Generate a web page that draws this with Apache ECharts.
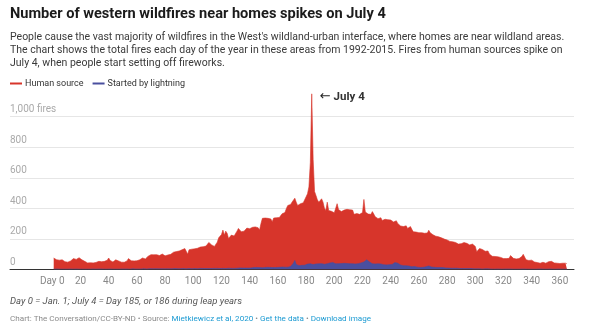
<!DOCTYPE html>
<html>
<head>
<meta charset="utf-8">
<script src="https://cdn.jsdelivr.net/npm/echarts@6/dist/echarts.min.js"></script>
<style>
  html, body { margin: 0; padding: 0; background: #fff; }
  #chart { width: 590px; height: 335px; }
</style>
</head>
<body>
<div id="chart"></div>
<script>
// Day-of-year axis ticks
const xTicks = [0, 20, 40, 60, 80, 100, 120, 140, 160, 180, 200, 220, 240, 260, 280, 300, 320, 340, 360];
const yTicks = [0, 200, 400, 600, 800, 1000];
const firstDay = 1;

// Human-caused fires per day (days 1..365)
const humanFires = [
  74, 66, 63, 58, 60, 65, 62, 54, 50, 48,
  47, 49, 55, 66, 70, 76, 65, 70, 76, 70,
  62, 58, 52, 46, 42, 41, 43, 40, 42, 48,
  45, 49, 52, 48, 50, 47, 52, 50, 60, 74,
  58, 50, 48, 52, 62, 70, 55, 48, 47, 50,
  46, 49, 55, 70, 60, 56, 58, 55, 60, 56,
  58, 62, 66, 74, 80, 68, 72, 86, 91, 96,
  98, 95, 99, 96, 92, 90, 96, 100, 92, 88,
  91, 94, 90, 98, 104, 112, 113, 116, 110, 120,
  125, 128, 132, 136, 118, 99, 128, 136, 132, 130,
  134, 128, 138, 134, 146, 150, 148, 156, 152, 158,
  176, 185, 160, 147, 150, 146, 178, 206, 213, 228,
  257, 224, 250, 236, 202, 212, 224, 228, 218, 235,
  250, 268, 279, 246, 240, 250, 262, 270, 275, 266,
  279, 275, 282, 278, 280, 272, 257, 300, 334, 330,
  336, 328, 334, 336, 330, 312, 336, 340, 338, 342,
  339, 350, 364, 367, 372, 398, 418, 410, 425, 440,
  452, 466, 440, 418, 425, 430, 420, 436, 440, 475,
  495, 540, 700, 1150, 720, 510, 484, 455, 440, 450,
  462, 440, 400, 386, 440, 385, 372, 380, 386, 370,
  378, 430, 392, 386, 378, 384, 388, 380, 393, 386,
  390, 384, 388, 360, 355, 365, 352, 360, 350, 372,
  458, 375, 365, 362, 368, 360, 378, 362, 345, 350,
  332, 345, 338, 320, 330, 328, 341, 325, 320, 323,
  316, 310, 323, 318, 300, 290, 284, 288, 280, 276,
  285, 268, 275, 280, 262, 246, 250, 244, 246, 240,
  235, 240, 234, 236, 230, 238, 256, 240, 232, 226,
  220, 217, 214, 213, 210, 206, 200, 198, 195, 192,
  187, 183, 185, 180, 186, 176, 172, 165, 170, 168,
  172, 175, 180, 170, 165, 160, 168, 165, 162, 150,
  115, 125, 136, 143, 130, 126, 118, 115, 120, 100,
  93, 85, 82, 84, 80, 82, 86, 78, 72, 70,
  73, 70, 68, 72, 90, 86, 72, 70, 68, 72,
  70, 74, 84, 98, 80, 62, 60, 58, 62, 60,
  56, 48, 46, 44, 46, 40, 44, 46, 42, 40,
  48, 50, 46, 52, 48, 42, 45, 40, 42, 38,
  42, 40, 38, 40, 36
];

// Lightning-caused fires per day (days 1..365)
const lightningFires = [
  1, 1, 2, 1, 1, 2, 1, 1, 1, 2,
  1, 1, 2, 1, 1, 1, 2, 1, 1, 1,
  1, 2, 1, 1, 1, 2, 1, 1, 2, 1,
  1, 1, 2, 1, 2, 1, 1, 2, 1, 1,
  2, 1, 1, 2, 1, 2, 1, 1, 2, 1,
  2, 1, 2, 2, 1, 2, 3, 2, 2, 3,
  2, 3, 2, 3, 4, 3, 2, 3, 4, 3,
  3, 2, 4, 3, 3, 4, 3, 2, 3, 4,
  3, 4, 3, 4, 3, 4, 5, 3, 4, 3,
  4, 3, 5, 4, 3, 4, 5, 4, 3, 4,
  5, 4, 4, 5, 6, 4, 5, 4, 5, 6,
  5, 6, 5, 4, 6, 5, 6, 7, 5, 6,
  6, 7, 5, 6, 7, 8, 6, 7, 6, 8,
  7, 8, 9, 7, 8, 6, 8, 9, 8, 10,
  9, 10, 11, 9, 12, 10, 11, 12, 10, 11,
  12, 11, 13, 10, 12, 14, 11, 13, 12, 14,
  13, 12, 15, 13, 14, 16, 14, 15, 18, 24,
  40, 58, 32, 26, 24, 28, 26, 30, 27, 32,
  34, 30, 36, 33, 31, 38, 35, 32, 36, 34,
  37, 35, 33, 38, 36, 40, 42, 50, 44, 38,
  36, 40, 37, 35, 38, 34, 39, 36, 38, 35,
  37, 33, 36, 38, 35, 40, 37, 39, 42, 45,
  48, 55, 62, 66, 48, 40, 36, 33, 35, 32,
  36, 37, 35, 31, 30, 33, 29, 31, 30, 28,
  32, 38, 44, 48, 40, 32, 28, 25, 24, 22,
  23, 20, 21, 18, 17, 16, 18, 15, 14, 13,
  12, 14, 13, 15, 16, 18, 22, 17, 15, 14,
  13, 14, 12, 11, 12, 10, 11, 10, 9, 10,
  8, 9, 7, 8, 7, 6, 7, 6, 5, 6,
  5, 6, 5, 4, 5, 4, 5, 4, 3, 4,
  3, 4, 3, 3, 2, 3, 3, 2, 3, 2,
  2, 2, 1, 2, 2, 1, 2, 2, 1, 2,
  2, 1, 2, 1, 2, 2, 1, 2, 1, 2,
  1, 2, 2, 1, 2, 1, 1, 2, 1, 2,
  1, 2, 1, 1, 2, 1, 2, 1, 1, 2,
  1, 1, 2, 1, 1, 2, 1, 1, 2, 1,
  1, 2, 1, 1, 1
];

const annotationDay = 184;
const annotationText = 'July 4';

const RED = '#d7352b';
const BLUE = '#4a4f9f';

const toPairs = arr => arr.map((v, i) => [firstDay + i, v]);
const peakValue = humanFires[annotationDay - firstDay];

const chart = echarts.init(document.getElementById('chart'), null, { renderer: 'canvas' });

chart.setOption({
  animation: false,
  backgroundColor: '#ffffff',
  textStyle: { fontFamily: 'Roboto' },
  title: [
    {
      text: 'Number of western wildfires near homes spikes on July 4',
      left: 10, top: 7, padding: 0,
      textStyle: { fontFamily: 'Roboto', fontSize: 14.6, fontWeight: 'bold', color: '#1b1b1b' }
    },
    {
      text: "People cause the vast majority of wildfires in the West's wildland-urban interface, where homes are near wildland areas.\nThe chart shows the total fires each day of the year in these areas from 1992-2015. Fires from human sources spike on\nJuly 4, when people start setting off fireworks.",
      left: 10, top: 31, padding: 0,
      textStyle: { fontFamily: 'Roboto', fontSize: 10.5, fontWeight: 'normal', color: '#3a3a3a', lineHeight: 13 }
    },
    {
      text: 'Day 0 = Jan. 1; July 4 = Day 185, or 186 during leap years',
      left: 10, top: 297, padding: 0,
      textStyle: { fontFamily: 'Roboto', fontSize: 9.5, fontStyle: 'italic', fontWeight: 'normal', color: '#555' }
    },
    {
      text: 'Chart: The Conversation/CC-BY-ND \u2022 Source: {l|Mietkiewicz et al, 2020} \u2022 {l|Get the data} \u2022 {l|Download image}',
      left: 10, top: 315, padding: 0,
      textStyle: {
        fontFamily: 'Roboto', fontSize: 8.1, fontWeight: 'normal', color: '#8a8a8a',
        rich: { l: { fontFamily: 'Roboto', fontSize: 8.1, color: '#1b9ad2' } }
      }
    }
  ],
  legend: {
    left: 10, top: 79, padding: 0,
    icon: 'rect', itemWidth: 12, itemHeight: 2, itemGap: 9,
    textStyle: { fontFamily: 'Roboto', fontSize: 9, color: '#333', padding: [0, 0, 0, -2] },
    data: ['Human source', 'Started by lightning']
  },
  grid: { left: 10, right: 16, top: 86.2, bottom: 65.7, containLabel: false },
  xAxis: {
    type: 'value',
    min: -30, max: 370, interval: 10,
    axisLine: { show: true, onZero: false, lineStyle: { color: '#333', width: 1 } },
    axisTick: { show: false },
    splitLine: { show: false },
    axisLabel: {
      interval: 0,
      color: '#888', fontSize: 10, fontFamily: 'Roboto', margin: 7,
      formatter: v => (xTicks.indexOf(v) < 0 ? '' : (v === 0 ? 'Day 0' : String(v)))
    }
  },
  yAxis: {
    type: 'value',
    min: 0, max: 1200, interval: 200,
    axisLine: { show: false },
    axisTick: { show: false },
    splitLine: { show: true, showMaxLine: false, lineStyle: { color: '#e6e6e6', width: 1 } },
    axisLabel: {
      inside: true, margin: 0, showMaxLabel: false,
      verticalAlign: 'bottom', align: 'left', padding: [0, 0, 2, 0],
      color: '#aaa', fontSize: 10, fontFamily: 'Roboto',
      formatter: v => (yTicks.indexOf(v) < 0 ? '' : (v === 1000 ? '1,000 fires' : String(v)))
    },
    z: 0
  },
  series: [
    {
      name: 'Human source',
      type: 'line',
      data: toPairs(humanFires),
      showSymbol: false,
      symbol: 'none',
      color: RED,
      lineStyle: { color: RED, width: 0.6 },
      areaStyle: { color: RED, opacity: 1 },
      z: 2,
      markPoint: {
        symbol: 'circle', symbolSize: 0,
        data: [{ coord: [annotationDay, peakValue] }],
        label: {
          show: true, position: 'right', distance: 8, offset: [0, 3],
          formatter: '{a|\u2190} {b|' + annotationText + '}',
          rich: {
            a: { fontFamily: 'DejaVu Sans', fontSize: 13, color: '#222' },
            b: { fontFamily: 'Roboto', fontSize: 11.5, fontWeight: 'bold', color: '#333' }
          }
        }
      }
    },
    {
      name: 'Started by lightning',
      type: 'line',
      data: toPairs(lightningFires),
      showSymbol: false,
      symbol: 'none',
      color: BLUE,
      lineStyle: { color: BLUE, width: 0.6 },
      areaStyle: { color: BLUE, opacity: 1 },
      z: 3
    }
  ]
});
</script>
</body>
</html>
